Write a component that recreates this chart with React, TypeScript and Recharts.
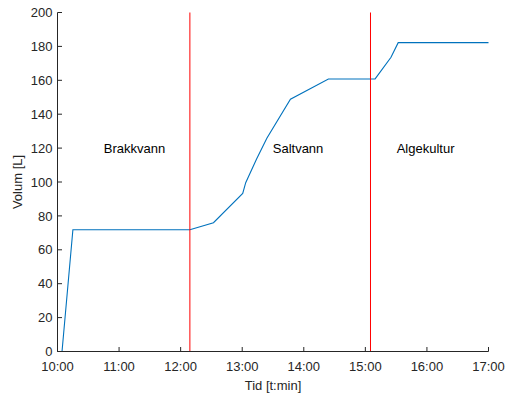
import React from "react";
import { LineChart, Line, XAxis, YAxis, ReferenceLine, ReferenceDot } from "recharts";

// minutes after 10:00
const minutes = [0, 4.4, 15, 129, 152, 180.5, 183.4, 194, 204, 227, 264, 309.5, 325, 332, 420];
const volume = [0, 0, 71.8, 71.8, 76, 93.3, 99.6, 113.6, 125.8, 148.8, 160.8, 160.8, 173.6, 182.2, 182.2];
const xTicks = [0, 60, 120, 180, 240, 300, 360, 420];
const xTickLabels = ["10:00", "11:00", "12:00", "13:00", "14:00", "15:00", "16:00", "17:00"];
const yTicks = [0, 20, 40, 60, 80, 100, 120, 140, 160, 180, 200];
const phaseBoundaries = [129, 305];
const phaseNames = ["Brakkvann", "Saltvann", "Algekultur"];
const phaseLabelX = [75, 234.4, 358.7];
const phaseLabelY = 120;

const data = minutes.map((m, i) => ({ t: m, v: volume[i] }));

const FONT = "'Liberation Sans', Arial, Helvetica, sans-serif";
const INK = "#262626";
const TL = 4.5;

const BottomTick = (props: any) => {
  const { x, y, payload } = props;
  const idx = xTicks.indexOf(payload.value);
  return (
    <g>
      <line x1={x} x2={x} y1={y} y2={y - TL} stroke={INK} strokeWidth={1} />
      <text x={x} y={y + 19.2} textAnchor="middle" fontSize={13} fontFamily={FONT} fill={INK}>
        {idx >= 0 ? xTickLabels[idx] : ""}
      </text>
    </g>
  );
};

const TopTick = (props: any) => {
  const { x, y } = props;
  return <line x1={x} x2={x} y1={y} y2={y + TL} stroke={INK} strokeWidth={1} />;
};

const LeftTick = (props: any) => {
  const { x, y, payload } = props;
  const ax = x + 5;
  return (
    <g>
      <line x1={ax} x2={ax + TL} y1={y} y2={y} stroke={INK} strokeWidth={1} />
      <text x={x} y={y + 4.6} textAnchor="end" fontSize={13} fontFamily={FONT} fill={INK}>
        {payload.value}
      </text>
    </g>
  );
};

const RightTick = (props: any) => {
  const { x, y } = props;
  return <line x1={x} x2={x - TL} y1={y} y2={y} stroke={INK} strokeWidth={1} />;
};

const XTitle = (props: any) => {
  const vb = props.viewBox || {};
  return (
    <text x={vb.x + vb.width / 2} y={vb.y + 38.8} textAnchor="middle" fontSize={13} fontFamily={FONT} fill={INK}>
      Tid [t:min]
    </text>
  );
};

const YTitle = (props: any) => {
  const vb = props.viewBox || {};
  const cx = 21.7;
  const cy = vb.y + vb.height / 2;
  return (
    <text x={cx} y={cy} transform={`rotate(-90, ${cx}, ${cy})`} textAnchor="middle" fontSize={13} fontFamily={FONT} fill={INK}>
      Volum [L]
    </text>
  );
};

const PhaseText = (name: string) => (props: any) => (
  <text x={props.cx} y={props.cy + 4.6} textAnchor="middle" fontSize={13} fontFamily={FONT} fill="#000">
    {name}
  </text>
);

export default function App() {
  return (
    <div style={{ position: "absolute", left: 0, top: 0, background: "#fff" }}>
      <LineChart
        width={506}
        height={399}
        data={data}
        margin={{ top: 12.5, right: 17.5, bottom: 0, left: 0 }}
      >
        <XAxis
          xAxisId="b"
          dataKey="t"
          type="number"
          domain={[0, 420]}
          ticks={xTicks}
          interval={0}
          height={47.5}
          tickSize={0}
          tickMargin={0}
          tick={<BottomTick />}
          tickLine={false}
          axisLine={{ stroke: INK, strokeWidth: 1 }}
          label={<XTitle />}
        />
        <XAxis
          xAxisId="t"
          orientation="top"
          dataKey="t"
          type="number"
          domain={[0, 420]}
          ticks={xTicks}
          interval={0}
          height={0}
          tickSize={0}
          tickMargin={0}
          tick={<TopTick />}
          tickLine={false}
          axisLine={{ stroke: INK, strokeWidth: 1 }}
        />
        <YAxis
          yAxisId="l"
          type="number"
          domain={[0, 200]}
          ticks={yTicks}
          interval={0}
          width={57.5}
          tickSize={0}
          tickMargin={5}
          tick={<LeftTick />}
          tickLine={false}
          axisLine={{ stroke: INK, strokeWidth: 1 }}
          label={<YTitle />}
        />
        <YAxis
          yAxisId="r"
          orientation="right"
          type="number"
          domain={[0, 200]}
          ticks={yTicks}
          interval={0}
          width={0}
          tickSize={0}
          tickMargin={0}
          tick={<RightTick />}
          tickLine={false}
          axisLine={{ stroke: INK, strokeWidth: 1 }}
        />
        <Line
          xAxisId="b"
          yAxisId="l"
          type="linear"
          dataKey="v"
          stroke="#0072BD"
          strokeWidth={1.1}
          dot={false}
          activeDot={false}
          isAnimationActive={false}
        />
        {phaseBoundaries.map((b) => (
          <ReferenceLine key={b} xAxisId="b" yAxisId="l" x={b} stroke="#FF0000" strokeWidth={1} />
        ))}
        {phaseNames.map((n, i) => (
          <ReferenceDot
            key={n}
            xAxisId="b"
            yAxisId="l"
            x={phaseLabelX[i]}
            y={phaseLabelY}
            r={0}
            shape={PhaseText(n)}
          />
        ))}
      </LineChart>
    </div>
  );
}
